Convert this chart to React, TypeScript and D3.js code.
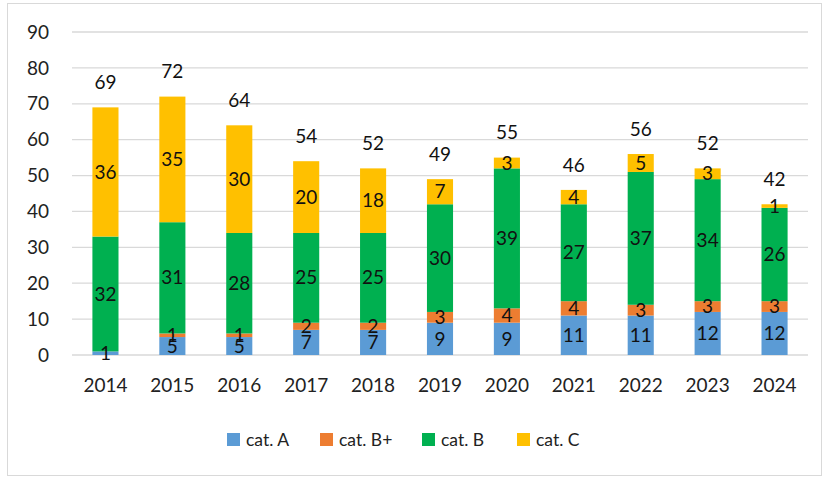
import React from "react";
import * as d3 from "d3";

const years = ["2014","2015","2016","2017","2018","2019","2020","2021","2022","2023","2024"];
const catA = [1,5,5,7,7,9,9,11,11,12,12];
const catBplus = [0,1,1,2,2,3,4,4,3,3,3];
const catB = [32,31,28,25,25,30,39,27,37,34,26];
const catC = [36,35,30,20,18,7,3,4,5,3,1];
const yTicks = [0,10,20,30,40,50,60,70,80,90];
const seriesNames = ["cat. A","cat. B+","cat. B","cat. C"];
const colors = ["#5B9BD5","#ED7D31","#00B050","#FFC000"];

export default function App() {
  const W = 827, H = 477;
  const left = 72, right = 808, top = 32, bottom = 355;
  const x = d3.scaleBand<string>().domain(years).range([left, right]).paddingInner(0.61).paddingOuter(0.305);
  const y = d3.scaleLinear().domain([0, 90]).range([bottom, top]);
  const rows = years.map((yr, i) => ({ year: yr, a: catA[i], bp: catBplus[i], b: catB[i], c: catC[i] }));
  const keys = ["a","bp","b","c"];
  const stacked = d3.stack<any>().keys(keys)(rows);
  const font = "Lato, 'Open Sans', sans-serif";
  const legendX = [227, 320, 422, 517];
  const fs = 19;
  return (
    <svg width={W} height={H} style={{ position: "absolute", left: 0, top: 0, background: "#fff" }} fontFamily={font}>
      <rect x={7.5} y={3.5} width={814} height={472} fill="#fff" stroke="#d9d9d9" strokeWidth={1} />
      {yTicks.map(t => (
        <g key={t}>
          <line x1={left} x2={right} y1={y(t)} y2={y(t)} stroke="#d9d9d9" strokeWidth={1.3} />
          <text x={49} y={y(t)} dy="0.35em" textAnchor="end" fontSize={fs} fill="#222">{t}</text>
        </g>
      ))}
      {stacked.map((s, si) => (
        <g key={si}>
          {s.map((d, i) => {
            const v = d[1] - d[0];
            if (v <= 0) return null;
            return (
              <rect key={i} x={x(years[i])} width={x.bandwidth()} y={y(d[1])} height={y(d[0]) - y(d[1])} fill={colors[si]} />
            );
          })}
        </g>
      ))}
      {stacked.map((s, si) => (
        <g key={"l" + si}>
          {s.map((d, i) => {
            const v = d[1] - d[0];
            if (v <= 0) return null;
            return (
              <text key={i} x={(x(years[i]) as number) + x.bandwidth() / 2} y={y((d[0] + d[1]) / 2)} dy="0.35em" textAnchor="middle" fontSize={fs} fill="#111">{v}</text>
            );
          })}
        </g>
      ))}
      {rows.map((r, i) => {
        const total = r.a + r.bp + r.b + r.c;
        return (
          <text key={"t" + i} x={(x(r.year) as number) + x.bandwidth() / 2} y={y(total) - 25} dy="0.35em" textAnchor="middle" fontSize={fs} fill="#111">{total}</text>
        );
      })}
      {years.map(yr => (
        <text key={"x" + yr} x={(x(yr) as number) + x.bandwidth() / 2} y={385} dy="0.35em" textAnchor="middle" fontSize={fs} fill="#222">{yr}</text>
      ))}
      {seriesNames.map((n, i) => (
        <g key={"lg" + i}>
          <rect x={legendX[i]} y={433} width={13} height={13} fill={colors[i]} />
          <text x={legendX[i] + 19} y={440} dy="0.35em" fontSize={17.5} fill="#222">{n}</text>
        </g>
      ))}
    </svg>
  );
}
